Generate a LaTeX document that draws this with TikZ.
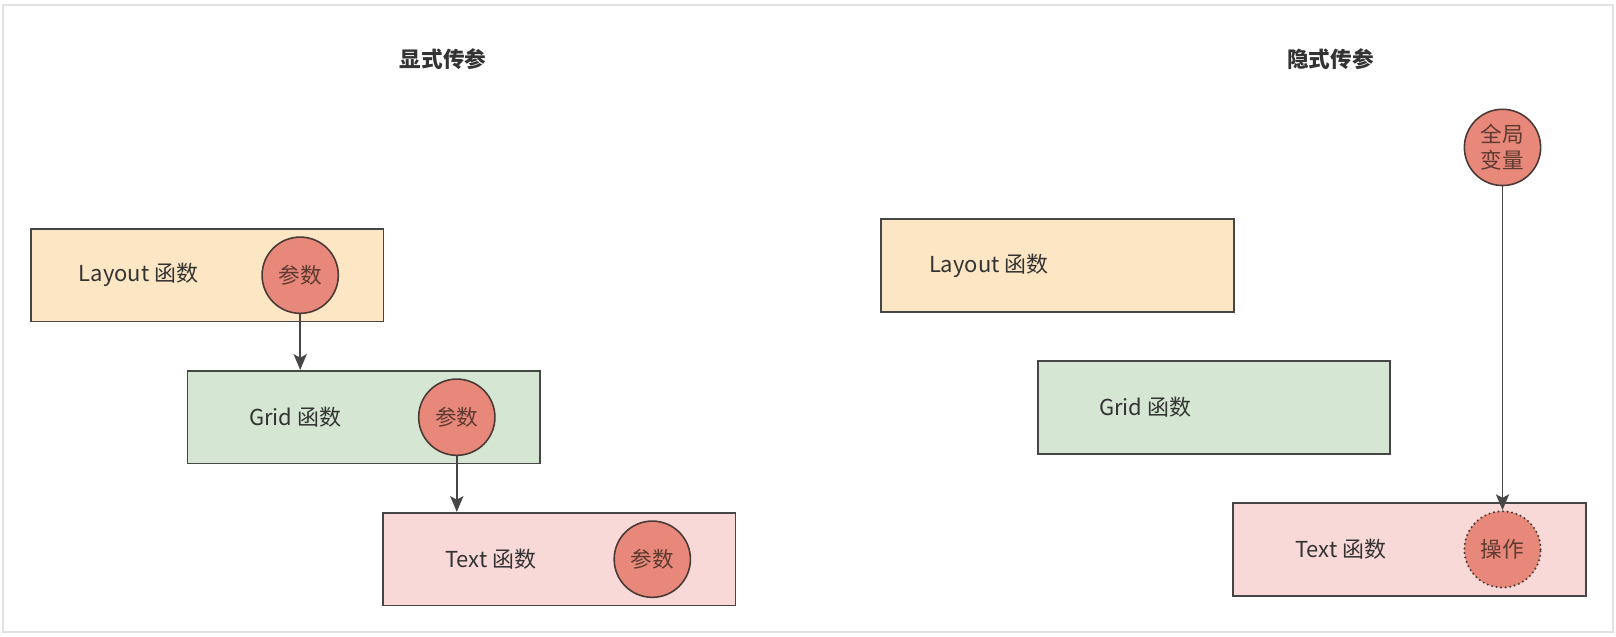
\documentclass[tikz,border=0pt]{standalone}
\usepackage{fontspec}
\setmainfont{Noto Sans CJK SC}
\usepackage{tikz}
\usetikzlibrary{shapes.geometric, arrows.meta}

\definecolor{layoutfill}{HTML}{FDE6C4}
\definecolor{gridfill}{HTML}{D5E7D3}
\definecolor{textfill}{HTML}{F9D8D8}
\definecolor{ballfill}{HTML}{E8887B}
\definecolor{ballline}{HTML}{4A3A36}
\definecolor{balltext}{HTML}{5E3A30}
\definecolor{boxline}{HTML}{464646}
\definecolor{darktext}{HTML}{333333}
\definecolor{framegray}{HTML}{E2E2E2}

\begin{document}
\begin{tikzpicture}[node distance=2.84cm]
	\tikzstyle{func} = [rectangle, minimum width=7.05cm, minimum height=1.855cm, 
	inner sep=0pt, draw=boxline, line width=1pt]
	\tikzstyle{param} = [circle, minimum size=1.525cm, inner sep=0pt, align=center, 
	draw=ballline, line width=0.9pt, fill=ballfill, text=balltext, 
	font=\fontsize{12.3}{15}\selectfont]
	\tikzstyle{funcname} = [xshift=2.17cm, text=darktext, 
	font=\fontsize{12.5}{14}\selectfont]
	\tikzstyle{title} = [text=darktext, font=\bfseries\fontsize{12.3}{14}\selectfont]
	\tikzstyle{arrow} = [line width=0.85pt, draw=boxline, ->, 
	>={Stealth[length=9pt, width=7.5pt, inset=2pt]}]
	\useasboundingbox (0,0) rectangle (32.32,-12.72);
	\draw [framegray, line width=0.6pt] (0.06,-0.10) rectangle (32.26,-12.64);
	\node (titleL) [title] at (8.86,-1.175) {显式传参};
	\node (titleR) [title] at (26.61,-1.175) {隐式传参};
	\node (layoutL) [func, fill=layoutfill] at (4.144,-5.504) {};
	\node (gridL) [func, fill=gridfill, below of=layoutL, xshift=3.132cm] {};
	\node (textL) [func, fill=textfill, below of=gridL, xshift=3.91cm] {};
	\node (layoutLname) [funcname] at (layoutL.west) {Layout 函数};
	\node (gridLname) [funcname] at (gridL.west) {Grid 函数};
	\node (textLname) [funcname] at (textL.west) {Text 函数};
	\node (argLayout) [param, right of=layoutL, node distance=1.86cm] {参数};
	\node (argGrid) [param, right of=gridL, node distance=1.86cm] {参数};
	\node (argText) [param, right of=textL, node distance=1.86cm] {参数};
	\node (layoutR) [func, fill=layoutfill] at (21.148,-5.308) {};
	\node (gridR) [func, fill=gridfill, below of=layoutR, xshift=3.132cm] {};
	\node (textR) [func, fill=textfill, below of=gridR, xshift=3.91cm] {};
	\node (layoutRname) [funcname] at (layoutR.west) {Layout 函数};
	\node (gridRname) [funcname] at (gridR.west) {Grid 函数};
	\node (textRname) [funcname] at (textR.west) {Text 函数};
	\node (operate) [param, right of=textR, node distance=1.86cm, 
	dash pattern=on 0pt off 2.6pt, line cap=round, line width=1.3pt] {操作};
	\node (globalVar) [param, above of=operate, node distance=8.04cm] {全局\\变量};
	\draw [arrow] (argLayout.south) -- (argLayout.south |- gridL.north);
	\draw [arrow] (argGrid.south) -- (argGrid.south |- textL.north);
	\draw [arrow] (globalVar.south) -- (operate.north);
\end{tikzpicture}
\end{document}
